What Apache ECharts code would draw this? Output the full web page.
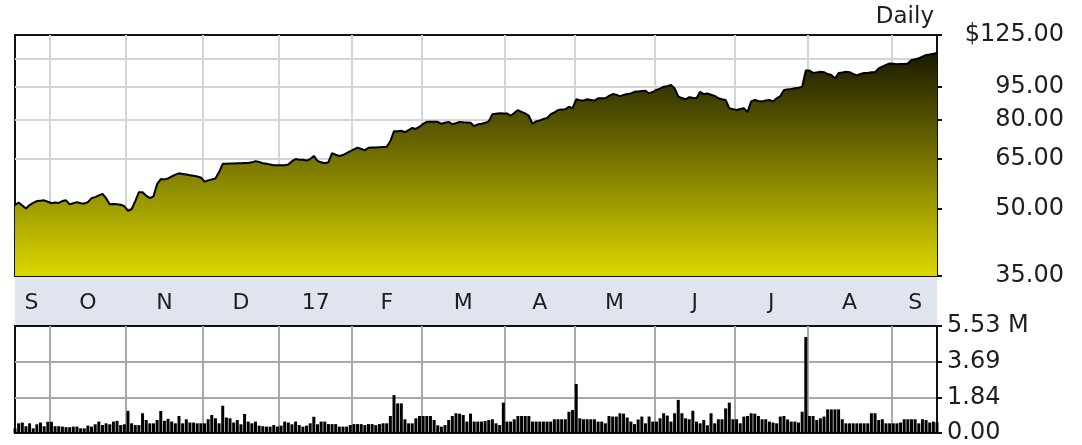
<!DOCTYPE html>
<html>
<head>
<meta charset="utf-8">
<script src="https://cdn.jsdelivr.net/npm/echarts@6/dist/echarts.min.js"></script>
<style>
  html, body { margin: 0; padding: 0; background: #ffffff; }
  #chart { width: 1082px; height: 445px; }
</style>
</head>
<body>
<div id="chart"></div>
<script>
// Month bands along the time axis (trading days per month, Sep 2016 - Sep 2017)
const monthLabels = ['S', 'O', 'N', 'D', '17', 'F', 'M', 'A', 'M', 'J', 'J', 'A', 'S'];
const monthDays = [10, 21, 21, 21, 20, 19, 23, 19, 22, 22, 20, 23, 13];

// Price scale (log) ticks and the ones that carry a label
const priceTicks = [35, 50, 65, 80, 95, 110, 125];
const priceLabels = [35, 50, 65, 80, 95, 125];

// Volume scale ticks (millions)
const volumeTicks = [0, 1.8433, 3.6867, 5.53];

// Daily closing price
const closePrice = [
  50.9, 51.6, 50.8, 50.0, 50.9, 51.5, 52.0, 52.1, 52.2, 51.8,
  51.4, 51.6, 51.5, 52.0, 52.2, 51.1, 51.4, 51.7, 51.4, 51.3,
  51.7, 52.8, 53.1, 53.6, 54.0, 52.8, 51.1, 51.2, 51.1, 51.0,
  50.6, 49.4, 49.8, 52.0, 54.5, 54.5, 53.5, 52.8, 53.3, 56.9,
  58.4, 58.3, 58.6, 59.2, 59.8, 60.2, 60.0, 59.8, 59.6, 59.4,
  59.2, 58.9, 57.6, 58.0, 58.3, 58.6, 60.6, 63.3, 63.3, 63.4,
  63.4, 63.5, 63.5, 63.6, 63.6, 63.8, 64.2, 63.9, 63.5, 63.3,
  63.1, 62.8, 62.8, 62.8, 62.8, 63.1, 64.2, 64.9, 64.7, 64.7,
  64.4, 64.9, 66.0, 64.3, 63.8, 63.5, 63.8, 67.0, 66.4, 66.0,
  66.3, 67.0, 67.7, 68.3, 68.9, 68.5, 68.0, 68.9, 69.0, 69.0,
  69.1, 69.2, 69.3, 71.4, 75.2, 75.2, 75.4, 74.8, 75.6, 76.5,
  76.1, 77.0, 78.2, 79.0, 79.0, 79.0, 79.0, 78.2, 78.6, 79.0,
  78.0, 78.5, 79.0, 78.8, 78.7, 78.6, 77.2, 78.0, 78.2, 78.6,
  79.2, 82.3, 82.5, 82.7, 82.6, 82.6, 81.6, 82.8, 84.1, 83.3,
  82.6, 81.6, 78.2, 79.2, 79.6, 80.2, 80.6, 82.3, 83.0, 84.1,
  84.3, 84.4, 85.6, 84.9, 89.0, 88.6, 88.4, 89.0, 88.7, 88.4,
  89.5, 89.5, 89.5, 90.6, 91.5, 91.2, 90.4, 91.1, 91.5, 91.8,
  92.6, 92.8, 93.0, 93.1, 91.8, 92.5, 93.5, 94.2, 95.1, 95.4,
  96.0, 94.3, 90.4, 89.6, 89.0, 90.0, 89.7, 89.5, 92.6, 91.5,
  91.8, 91.2, 90.6, 89.5, 89.0, 88.7, 84.9, 84.5, 84.1, 84.6,
  84.9, 83.2, 88.0, 88.7, 88.2, 88.0, 88.4, 88.7, 88.0, 89.5,
  90.5, 93.5, 93.8, 94.0, 94.3, 94.6, 95.1, 103.6, 103.6, 102.3,
  102.6, 102.9, 102.7, 101.7, 101.2, 99.4, 102.3, 102.5, 102.9, 102.7,
  101.8, 101.0, 101.7, 102.3, 102.3, 102.7, 102.7, 104.8, 105.8, 106.7,
  107.5, 107.4, 107.1, 107.2, 107.3, 107.5, 109.6, 110.0, 110.5, 111.5,
  112.5, 112.8, 113.2, 113.7
];

// Daily volume (millions of shares)
const volume = [
  0.24, 0.50, 0.54, 0.35, 0.50, 0.24, 0.45, 0.54, 0.35, 0.58,
  0.58, 0.35, 0.35, 0.33, 0.30, 0.30, 0.33, 0.33, 0.24, 0.24,
  0.38, 0.33, 0.45, 0.59, 0.41, 0.50, 0.45, 0.59, 0.63, 0.41,
  0.45, 1.14, 0.50, 0.41, 0.41, 1.02, 0.67, 0.50, 0.50, 0.67,
  1.14, 0.63, 0.73, 0.59, 0.50, 0.88, 0.50, 0.71, 0.54, 0.54,
  0.50, 0.50, 0.50, 0.71, 0.93, 0.76, 0.50, 1.41, 0.80, 0.76,
  0.54, 0.67, 0.45, 0.98, 0.59, 0.50, 0.59, 0.38, 0.35, 0.33,
  0.33, 0.41, 0.33, 0.38, 0.59, 0.54, 0.45, 0.59, 0.41, 0.33,
  0.38, 0.50, 0.84, 0.45, 0.59, 0.59, 0.46, 0.46, 0.46, 0.33,
  0.33, 0.33, 0.41, 0.46, 0.46, 0.46, 0.41, 0.46, 0.46, 0.41,
  0.46, 0.50, 0.50, 0.88, 1.96, 1.53, 1.53, 0.71, 0.50, 0.50,
  0.76, 0.88, 0.88, 0.88, 0.88, 0.67, 0.40, 0.33, 0.41, 0.67,
  0.88, 1.02, 1.00, 0.93, 0.59, 1.00, 0.59, 0.59, 0.59, 0.62,
  0.67, 0.71, 0.50, 0.41, 1.57, 0.59, 0.59, 0.71, 0.88, 0.88,
  0.88, 0.88, 0.59, 0.59, 0.59, 0.59, 0.59, 0.59, 0.71, 0.71,
  0.71, 0.71, 1.10, 1.19, 2.53, 0.76, 0.71, 0.71, 0.71, 0.71,
  0.59, 0.59, 0.50, 0.88, 0.85, 0.85, 1.02, 1.00, 0.80, 0.59,
  0.46, 0.70, 0.85, 0.50, 0.85, 0.59, 0.59, 0.76, 1.02, 0.90,
  0.59, 1.02, 1.71, 1.02, 0.76, 0.71, 1.15, 0.59, 0.50, 0.67,
  0.40, 1.02, 0.50, 0.71, 0.71, 1.27, 1.57, 0.71, 0.71, 0.50,
  0.85, 0.88, 1.02, 1.00, 0.88, 0.71, 0.71, 0.59, 0.54, 0.50,
  0.85, 0.88, 0.70, 0.59, 0.59, 0.54, 1.10, 4.96, 0.88, 0.88,
  0.67, 0.76, 0.85, 1.22, 1.22, 1.22, 1.22, 0.71, 0.50, 0.50,
  0.50, 0.50, 0.50, 0.50, 0.50, 1.02, 1.02, 0.67, 0.71, 0.50,
  0.50, 0.50, 0.50, 0.54, 0.71, 0.71, 0.71, 0.71, 0.50, 0.71,
  0.67, 0.54, 0.59, 0.55
];

// Derived month geometry in trading-day index units
const monthStart = [];
let dayCount = 0;
monthDays.forEach(function (d) { monthStart.push(dayCount); dayCount += d; });
const monthBoundaries = monthStart.slice(1).map(function (s) { return s - 0.5; });
const monthMid = monthStart.map(function (s, k) { return s + monthDays[k] / 2 - 0.5; });
const lastIndex = closePrice.length - 1;

const FONT = 'DejaVu Sans';
const TEXT = '#1e1e1e';
const BORDER = '#111111';
const logMin = Math.log(priceTicks[0]);
const logMax = Math.log(priceTicks[priceTicks.length - 1]);
const volMax = volumeTicks[volumeTicks.length - 1];

// inner gridlines only; panel edges are drawn by the grid border
const priceGridValues = priceTicks.slice(1, -1).map(Math.log);
const volumeGridValues = volumeTicks.slice(1, -1);

const chart = echarts.init(document.getElementById('chart'), null, { renderer: 'canvas' });

chart.setOption({
  animation: false,
  backgroundColor: '#ffffff',
  title: {
    text: 'Daily',
    right: 148,
    top: 6,
    padding: 0,
    textStyle: { fontFamily: FONT, fontSize: 23, fontWeight: 'normal', color: TEXT }
  },
  graphic: [{
    type: 'rect',
    left: 15,
    top: 277,
    z: -1,
    shape: { width: 922, height: 49 },
    style: { fill: '#dfe4ef' }
  }],
  grid: [
    { left: 15, top: 35, width: 922, height: 241, show: true, backgroundColor: '#ffffff', borderColor: BORDER, borderWidth: 2 },
    { left: 15, top: 326, width: 922, height: 107, show: true, backgroundColor: '#ffffff', borderColor: BORDER, borderWidth: 2 }
  ],
  xAxis: [
    {
      type: 'value', gridIndex: 0, min: 0, max: lastIndex,
      axisLine: { show: true, lineStyle: { color: BORDER, width: 2 } },
      axisTick: { show: false, customValues: monthBoundaries },
      splitLine: { show: true, lineStyle: { color: '#d4d4d4', width: 2 } },
      axisLabel: {
        customValues: monthMid,
        margin: 27,
        verticalAlign: 'middle',
        fontFamily: FONT, fontSize: 22, color: TEXT,
        formatter: function (v) { return monthLabels[monthMid.indexOf(v)]; }
      }
    },
    {
      type: 'value', gridIndex: 1, min: 0, max: lastIndex,
      axisLine: { show: true, lineStyle: { color: BORDER, width: 2 } },
      axisTick: { show: false, customValues: monthBoundaries },
      splitLine: { show: true, lineStyle: { color: '#a9a9a9', width: 2 } },
      axisLabel: { show: false }
    }
  ],
  yAxis: [
    {
      // gridlines of the price panel
      type: 'value', gridIndex: 0, position: 'right', min: logMin, max: logMax,
      axisLine: { show: false },
      axisTick: { show: false, customValues: priceGridValues },
      axisLabel: { show: false },
      splitLine: { show: true, lineStyle: { color: '#d4d4d4', width: 2 } }
    },
    {
      // labelled price scale
      type: 'value', gridIndex: 0, position: 'right', min: logMin, max: logMax,
      axisLine: { show: true, lineStyle: { color: BORDER, width: 2 } },
      axisTick: { show: true, length: 5, lineStyle: { color: BORDER, width: 2 }, customValues: priceLabels.map(Math.log) },
      splitLine: { show: false },
      axisLabel: {
        customValues: priceLabels.map(Math.log),
        align: 'right',
        margin: 127,
        fontFamily: FONT, fontSize: 24, color: TEXT,
        formatter: function (v) {
          const p = Math.exp(v).toFixed(2);
          return Math.abs(v - logMax) < 1e-9 ? '$' + p : p;
        }
      }
    },
    {
      // gridlines of the volume panel
      type: 'value', gridIndex: 1, position: 'right', min: 0, max: volMax,
      axisLine: { show: false },
      axisTick: { show: false, customValues: volumeGridValues },
      axisLabel: { show: false },
      splitLine: { show: true, lineStyle: { color: '#a9a9a9', width: 2 } }
    },
    {
      // labelled volume scale
      type: 'value', gridIndex: 1, position: 'right', min: 0, max: volMax,
      axisLine: { show: true, lineStyle: { color: BORDER, width: 2 } },
      axisTick: { show: true, length: 5, lineStyle: { color: BORDER, width: 2 }, customValues: volumeTicks },
      splitLine: { show: false },
      axisLabel: {
        customValues: volumeTicks,
        margin: 10,
        fontFamily: FONT, fontSize: 24, color: TEXT,
        formatter: function (v) {
          const s = v.toFixed(2);
          return v === volMax ? s + ' M' : s;
        }
      }
    }
  ],
  series: [
    {
      name: 'Close',
      type: 'line',
      xAxisIndex: 0,
      yAxisIndex: 0,
      data: closePrice.map(function (p, i) { return [i, Math.log(p)]; }),
      showSymbol: false,
      symbol: 'none',
      lineStyle: { color: '#000000', width: 2 },
      areaStyle: {
        origin: 'start',
        opacity: 1,
        color: new echarts.graphic.LinearGradient(0, 35, 0, 276, [
          { offset: 0, color: '#0a0a00' },
          { offset: 1, color: '#dcd800' }
        ], true)
      },
      z: 3
    },
    {
      name: 'Volume',
      type: 'bar',
      xAxisIndex: 1,
      yAxisIndex: 2,
      data: volume.map(function (v, i) { return [i, v]; }),
      barWidth: 3,
      itemStyle: { color: '#000000' },
      z: 3
    }
  ]
});
</script>
</body>
</html>
